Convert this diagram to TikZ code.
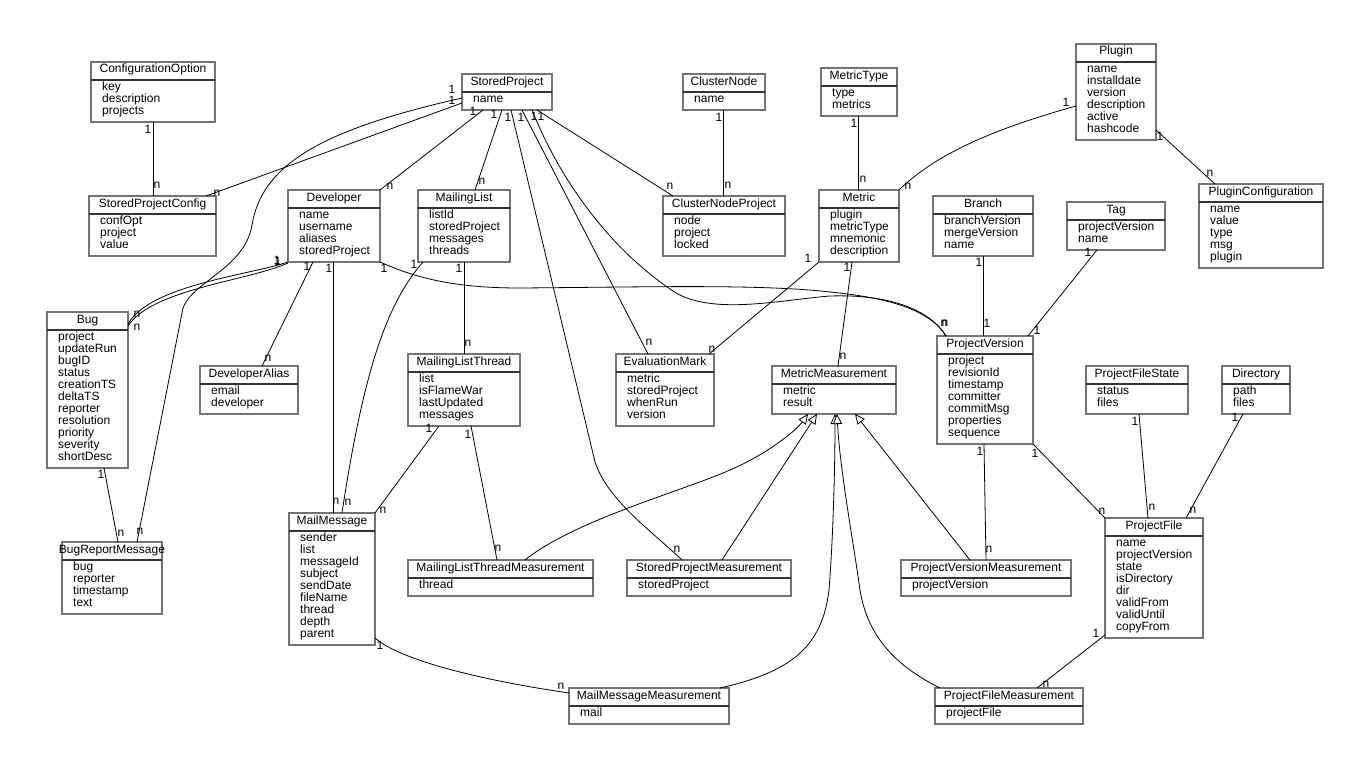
\documentclass[tikz,border=0pt]{standalone}
\usepackage{fontspec}
\setmainfont{Liberation Sans}
\usetikzlibrary{arrows.meta,calc}

\tikzset{
  classbox/.style={draw=black!55, line width=1.2pt, inner sep=0pt, outer sep=0pt, anchor=north west},
  classtext/.style={font=\fontsize{12}{12}\selectfont, inner sep=0pt},
  classsep/.style={draw=black!80, line width=1.5pt},
  assoc/.style={draw=black, line width=0.8pt},
  gen/.style={assoc, -{Triangle[length=10pt, width=9pt, fill=white]}},
  mult/.style 2 args={classtext, shift={(#1,#2)}},
}

% class box: name, x, y (top left), width, number of attributes, title, attributes
\newcommand{\umlclass}[7]{%
  \pgfmathsetmacro{\clsheight}{24+12*#5}
  \node[classbox, minimum width=#4pt, minimum height=\clsheight pt] (#1) at (#2,#3) {};
  \node[classtext, anchor=base] (#1-title) at ($(#1.north)+(0,11)$) {#6};
  \draw[classsep] ($(#1.north west)+(0,18)$) -- ($(#1.north east)+(0,18)$);
  \foreach \clsattr [count=\clsi] in {#7} {
    \node[classtext, anchor=base west] (#1-a\clsi) at ($(#1.north west)+(11,16.5+12*\clsi)$) {\clsattr};
  }
}

\begin{document}
\begin{tikzpicture}[x=1pt, y=-1pt]
\path[fill=white, use as bounding box] (0,0) rectangle (1371,768);

% Classes
\umlclass{cfgopt}{91}{62}{124}{3}{ConfigurationOption}{key, description, projects}
\umlclass{spcfg}{89}{196}{127}{3}{StoredProjectConfig}{confOpt, project, value}
\umlclass{sproj}{462}{74}{90}{1}{StoredProject}{name}
\umlclass{cnode}{683}{74}{82}{1}{ClusterNode}{name}
\umlclass{mtype}{821}{68}{76}{2}{MetricType}{type, metrics}
\umlclass{plugin}{1076}{44}{80}{6}{Plugin}{name, installdate, version, description, active, hashcode}
\umlclass{dev}{288}{190}{92}{4}{Developer}{name, username, aliases, storedProject}
\umlclass{mlist}{418}{190}{92}{4}{MailingList}{listId, storedProject, messages, threads}
\umlclass{cnproj}{663}{196}{122}{3}{ClusterNodeProject}{node, project, locked}
\umlclass{metric}{819}{190}{80}{4}{Metric}{plugin, metricType, mnemonic, description}
\umlclass{branch}{933}{196}{100}{3}{Branch}{branchVersion, mergeVersion, name}
\umlclass{tag}{1067}{202}{98}{2}{Tag}{projectVersion, name}
\umlclass{pcfg}{1199}{184}{124}{5}{PluginConfiguration}{name, value, type, msg, plugin}
\umlclass{bug}{47}{312}{81}{11}{Bug}{project, updateRun, bugID, status, creationTS, deltaTS, reporter, resolution, priority, severity, shortDesc}
\umlclass{devalias}{200}{366}{98}{2}{DeveloperAlias}{email, developer}
\umlclass{mlthread}{408}{354}{112}{4}{MailingListThread}{list, isFlameWar, lastUpdated, messages}
\umlclass{evmark}{616}{354}{98}{4}{EvaluationMark}{metric, storedProject, whenRun, version}
\umlclass{mmeas}{772}{366}{124}{2}{MetricMeasurement}{metric, result}
\umlclass{pversion}{937}{336}{96}{7}{ProjectVersion}{project, revisionId, timestamp, committer, commitMsg, properties, sequence}
\umlclass{pfstate}{1086}{366}{102}{2}{ProjectFileState}{status, files}
\umlclass{dir}{1222}{366}{68}{2}{Directory}{path, files}
\umlclass{mmsg}{289}{513}{86}{9}{MailMessage}{sender, list, messageId, subject, sendDate, fileName, thread, depth, parent}
\umlclass{brmsg}{62}{542}{100}{4}{BugReportMessage}{bug, reporter, timestamp, text}
\umlclass{pfile}{1105}{518}{98}{8}{ProjectFile}{name, projectVersion, state, isDirectory, dir, validFrom, validUntil, copyFrom}
\umlclass{mltm}{408}{560}{185}{1}{MailingListThreadMeasurement}{thread}
\umlclass{spm}{627}{560}{164}{1}{StoredProjectMeasurement}{storedProject}
\umlclass{pvm}{901}{560}{170}{1}{ProjectVersionMeasurement}{projectVersion}
\umlclass{mmm}{569}{688}{160}{1}{MailMessageMeasurement}{mail}
\umlclass{pfm}{935}{688}{148}{1}{ProjectFileMeasurement}{projectFile}

% Associations
\draw[assoc] ($(cfgopt.south west)+(62,0)$) -- ($(spcfg.north west)+(64,0)$)
  node[mult={-5}{7}, at start] {1} node[mult={4}{-11}, at end] {n};
\draw[assoc] ($(sproj.north west)+(0,29)$) -- ($(spcfg.north west)+(117,0)$)
  node[mult={-10}{-3}, at start] {1} node[mult={11}{-3}, at end] {n};
\draw[assoc] ($(sproj.north west)+(0,24)$) .. controls (320,130) and (262,165) .. (252,225)
  node[mult={-10}{-9}, at start] {1}
  .. controls (245,268) and (192,282) .. (183,308) -- ($(brmsg.north west)+(75,0)$)
  node[mult={3}{-11}, at end] {n};
\draw[assoc] ($(sproj.south west)+(21,0)$) -- (dev.north east)
  node[mult={-10}{1}, at start] {1} node[mult={10}{-4}, at end] {n};
\draw[assoc] ($(sproj.south west)+(40,0)$) -- ($(mlist.north west)+(57,0)$)
  node[mult={-8}{4}, at start] {1} node[mult={7}{-9}, at end] {n};
\draw[assoc] ($(sproj.south west)+(49,0)$) -- (595,462)
  node[mult={-3}{7}, at start] {1}
  .. controls (608,500) and (648,528) .. ($(spm.north west)+(55,0)$)
  node[mult={-5}{-11}, at end] {n};
\draw[assoc] ($(sproj.south west)+(60,0)$) -- ($(evmark.north west)+(32,0)$)
  node[mult={-1}{7}, at start] {1} node[mult={1}{-12}, at end] {n};
\draw[assoc] ($(sproj.south west)+(70,0)$) .. controls (560,180) and (610,250) .. (676,293)
  node[mult={2}{6}, at start] {1}
  .. controls (715,315) and (780,300) .. (830,296)
  .. controls (890,294) and (930,310) .. ($(pversion.north west)+(9,0)$)
  node[mult={-2}{-13}, at end] {n};
\draw[assoc] ($(sproj.south west)+(75,0)$) -- ($(cnproj.north west)+(10,0)$)
  node[mult={4}{6}, at start] {1} node[mult={-3}{-10}, at end] {n};
\draw[assoc] ($(cnode.south west)+(40,0)$) -- ($(cnproj.north west)+(60,0)$)
  node[mult={-4}{7}, at start] {1} node[mult={5}{-11}, at end] {n};
\draw[assoc] ($(mtype.south west)+(37,0)$) -- ($(metric.north west)+(39,0)$)
  node[mult={-4}{7}, at start] {1} node[mult={5}{-11}, at end] {n};
\draw[assoc] ($(plugin.north west)+(0,62)$) .. controls (990,130) and (935,155) .. (metric.north east)
  node[mult={-10}{-4}, at start] {1} node[mult={9}{-4}, at end] {n};
\draw[assoc] ($(plugin.south east)+(0,-10)$) -- ($(pcfg.north west)+(16,0)$)
  node[mult={4}{6}, at start] {1} node[mult={-5}{-11}, at end] {n};
% Developer
\draw[assoc] (dev.south west) .. controls (250,275) and (150,285) .. ($(bug.north east)+(0,12)$)
  node[mult={-11}{-2}, at start] {1} node[mult={9}{-10}, at end] {n};
\draw[assoc] ($(dev.south west)+(0,1)$) .. controls (248,281) and (152,289) .. ($(bug.north east)+(0,14)$)
  node[mult={-10}{-2}, at start] {1} node[mult={9}{1}, at end] {n};
\draw[assoc] ($(dev.south west)+(25,0)$) -- ($(devalias.north east)+(-36,0)$)
  node[mult={-6}{4}, at start] {1} node[mult={6}{-8}, at end] {n};
\draw[assoc] ($(dev.south west)+(45,0)$) -- ($(mmsg.north west)+(44,0)$)
  node[mult={-4}{6}, at start] {1} node[mult={3}{-12}, at end] {n};
\draw[assoc] (dev.south east) .. controls (420,280) and (460,288) .. (520,288)
  node[mult={4}{6}, at start] {1}
  .. controls (650,287) and (760,284) .. (830,292)
  .. controls (890,298) and (930,310) .. ($(pversion.north west)+(9,0)$)
  node[mult={-1}{-13}, at end] {n};
% Mailing lists
\draw[assoc] ($(mlist.south west)+(5,0)$) .. controls (390,300) and (365,360) .. ($(mmsg.north west)+(53,0)$)
  node[mult={-9}{2}, at start] {1} node[mult={6}{-11}, at end] {n};
\draw[assoc] ($(mlist.south west)+(46,0)$) -- ($(mlthread.north west)+(56,0)$)
  node[mult={-5}{6}, at start] {1} node[mult={4}{-11}, at end] {n};
\draw[assoc] ($(mlthread.south west)+(31,0)$) -- (mmsg.north east)
  node[mult={-10}{2}, at start] {1} node[mult={8}{-3}, at end] {n};
\draw[assoc] ($(mlthread.south west)+(63,0)$) -- ($(mltm.north west)+(89,0)$)
  node[mult={-3}{8}, at start] {1} node[mult={1}{-12}, at end] {n};
\draw[assoc] ($(mmsg.south east)+(0,-7)$) .. controls (400,660) and (480,680) .. ($(mmm.north west)+(0,5)$)
  node[mult={5}{7}, at start] {1} node[mult={-8}{-7}, at end] {n};
% Metrics
\draw[assoc] (metric.south west) -- ($(evmark.north east)+(-5,0)$)
  node[mult={-11}{-4}, at start] {1} node[mult={3}{-5}, at end] {n};
\draw[assoc] ($(metric.south west)+(33,0)$) -- ($(mmeas.north west)+(66,0)$)
  node[mult={-5}{5}, at start] {1} node[mult={5}{-10}, at end] {n};
% Versions and files
\draw[assoc] ($(branch.south west)+(50,0)$) -- ($(pversion.north west)+(46,0)$)
  node[mult={-4}{6}, at start] {1} node[mult={4}{-13}, at end] {1};
\draw[assoc] ($(tag.south west)+(30,0)$) -- ($(pversion.north east)+(-5,0)$)
  node[mult={-9}{2}, at start] {1} node[mult={9}{-6}, at end] {1};
\draw[assoc] (pversion.south east) -- (pfile.north west)
  node[mult={2}{9}, at start] {1} node[mult={-3}{-7}, at end] {n};
\draw[assoc] ($(pfstate.south west)+(53,0)$) -- ($(pfile.north west)+(43,0)$)
  node[mult={-4}{7}, at start] {1} node[mult={4}{-11}, at end] {n};
\draw[assoc] ($(dir.south west)+(21,0)$) -- ($(pfile.north west)+(81,0)$)
  node[mult={-8}{3}, at start] {1} node[mult={7}{-8}, at end] {n};
\draw[assoc] ($(pversion.south west)+(47,0)$) -- ($(pvm.north west)+(85,0)$)
  node[mult={-4}{7}, at start] {1} node[mult={3}{-11}, at end] {n};
\draw[assoc] ($(pfile.south west)+(0,-3)$) -- ($(pfm.north west)+(102,0)$)
  node[mult={-9}{-2}, at start] {1} node[mult={9}{-4}, at end] {n};
% Bugs
\draw[assoc] ($(bug.south west)+(57,0)$) -- ($(brmsg.north west)+(56,0)$)
  node[mult={-3}{6}, at start] {1} node[mult={3}{-9}, at end] {n};

% Generalisations
\draw[gen] ($(mltm.north west)+(117,0)$) .. controls (575,520) and (680,492) .. (730,470)
  .. controls (765,455) and (795,432) .. ($(mmeas.south west)+(36,0)$);
\draw[gen] ($(spm.north west)+(95,0)$) -- ($(mmeas.south west)+(45,0)$);
\draw[gen] ($(mmm.north east)+(-9,0)$) .. controls (790,672) and (822,648) .. (829,590)
  .. controls (833,540) and (835,470) .. ($(mmeas.south west)+(63,0)$);
\draw[gen] ($(pfm.north west)+(5,0)$) .. controls (900,668) and (868,640) .. (860,590)
  .. controls (853,540) and (840,470) .. ($(mmeas.south west)+(65,0)$);
\draw[gen] ($(pvm.north west)+(69,0)$) -- ($(mmeas.south west)+(83,0)$);
\end{tikzpicture}
\end{document}
